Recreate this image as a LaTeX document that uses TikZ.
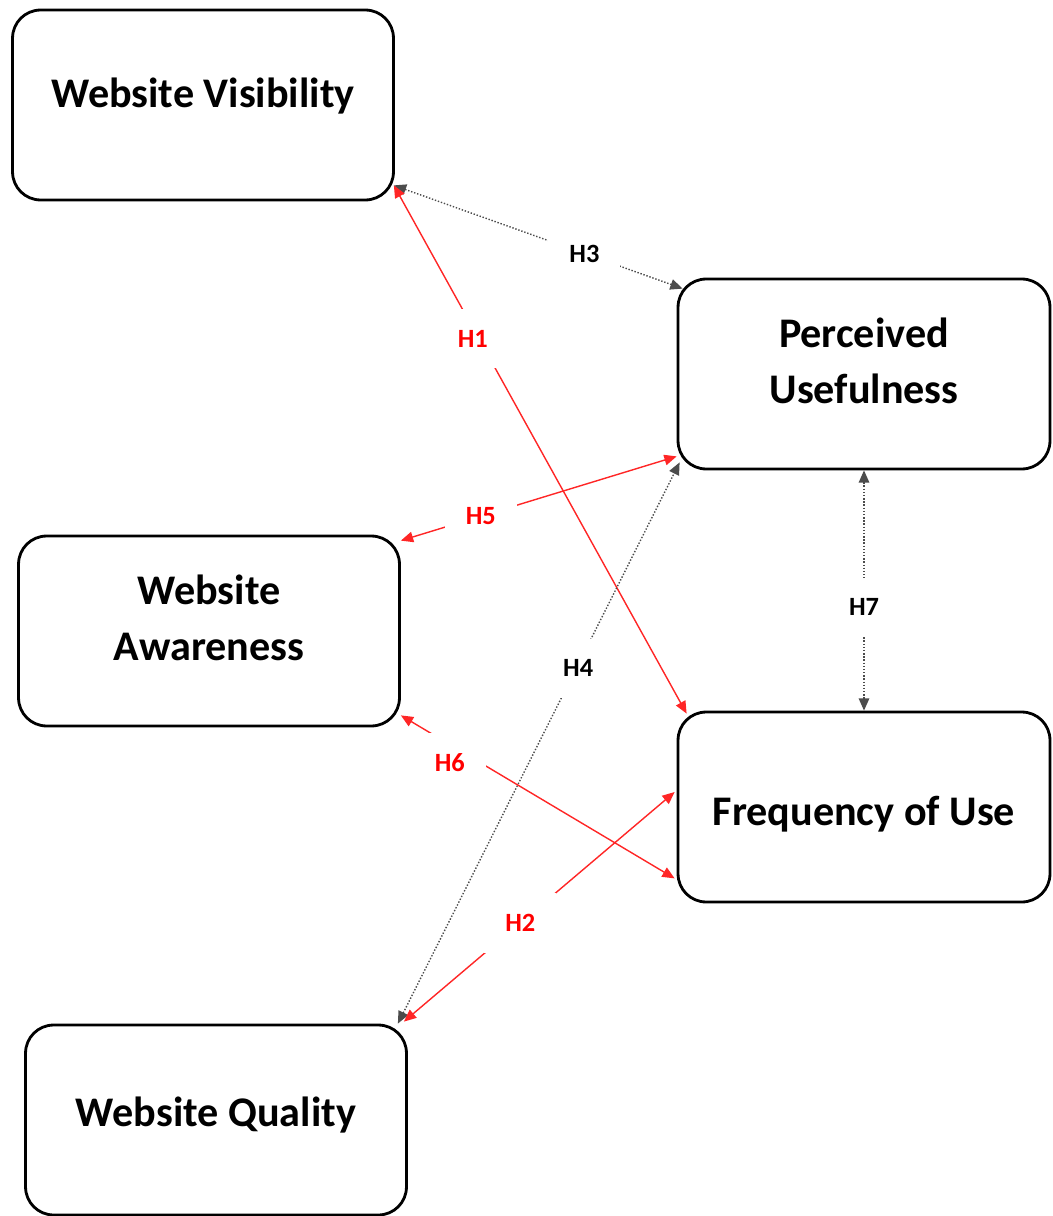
\documentclass[tikz,border=0pt]{standalone}
\usepackage{fontspec}
\setmainfont{Carlito}
\usetikzlibrary{arrows.meta}

\tikzset{
  box/.style={draw, line width=1.6pt, rounded corners=16pt, align=center,
    minimum width=7.62cm, minimum height=3.8cm,
    font=\bfseries\fontsize{24}{32}\selectfont},
  onebox/.style={box, text depth=14pt},
  twobox/.style={box, text depth=15pt},
  hyp/.style={line width=0.8pt,
    {Triangle[length=7pt,width=6pt]}-{Triangle[length=7pt,width=6pt]}},
  redhyp/.style={hyp, red!85},
  dothyp/.style={hyp, black!70, densely dotted},
  lab/.style={fill=white, text=black, inner sep=0.42cm, font=\bfseries\fontsize{15}{18}\selectfont},
  redlab/.style={lab, text=red},
}

\begin{document}
\begin{tikzpicture}[x=0.02cm, y=-0.02cm]
\useasboundingbox (0,0) rectangle (1052,1216);
\node[onebox] (wv) at (203,105) {Website Visibility};
\node[twobox, minimum width=7.44cm] (pu) at (864,374) {Perceived\\Usefulness};
\node[twobox] (wa) at (209,631) {Website\\Awareness};
\node[box, text height=25pt, minimum width=7.44cm] (fu) at (864,807) {Frequency of Use};
\node[box, text depth=9.5pt] (wq) at (216,1120) {Website Quality};
\draw [dothyp] ([shift={(-1,-16)}]wv.south east) -- node[lab, pos=0.66] {H3} ([shift={(6,11)}]pu.north west);
\draw [redhyp] ([shift={(-1,-16)}]wv.south east) -- node[redlab, pos=0.29, xshift=-0.12cm] {H1} ([shift={(10,3)}]fu.north west);
\draw [redhyp] ([shift={(0,6)}]wa.north east) -- node[redlab, pos=0.29] {H5} ([shift={(0,-14)}]pu.south west);
\draw [dothyp] ([shift={(-10,0)}]wq.north east) -- node[lab, pos=0.64, yshift=-0.08cm] {H4} ([shift={(3,-8)}]pu.south west);
\draw [redhyp] ([shift={(0,-12)}]wa.south east) -- node[redlab, pos=0.23, xshift=-0.28cm, yshift=-0.2cm] {H6} ([shift={(-2,-25)}]fu.south west);
\draw [redhyp] ([shift={(-4,-2)}]wq.north east) -- node[redlab, pos=0.43] {H2} ([shift={(-2,-15)}]fu.west);
\draw [dothyp] (pu.south) -- node[lab, pos=0.57] {H7} (fu.north);
\end{tikzpicture}
\end{document}
